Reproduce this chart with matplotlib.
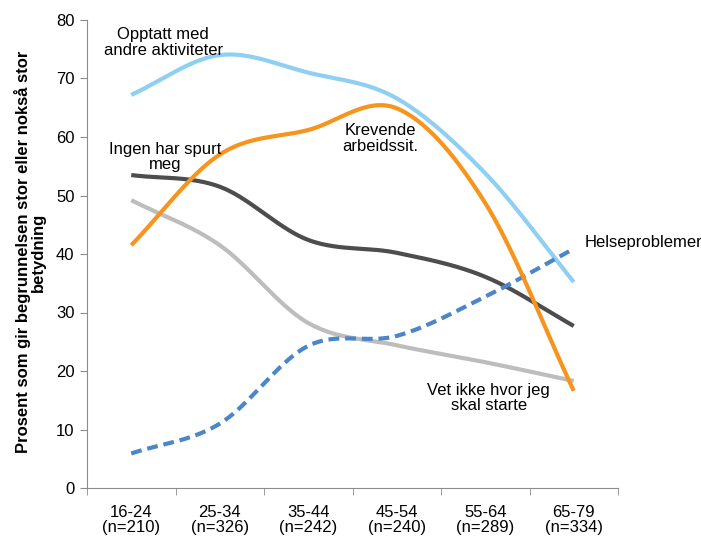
import numpy as np
import matplotlib.pyplot as plt

plt.rcParams['font.family'] = ['Liberation Sans', 'DejaVu Sans']

groups = ['16-24\n(n=210)', '25-34\n(n=326)', '35-44\n(n=242)',
          '45-54\n(n=240)', '55-64\n(n=289)', '65-79\n(n=334)']

opptatt = [67.2, 74.0, 71.0, 66.6, 53.8, 35.2]
krevende = [41.5, 57.0, 61.2, 64.9, 48.7, 16.6]
ingen_spurt = [53.5, 51.5, 42.4, 40.2, 36.1, 27.7]
vet_ikke = [49.2, 41.5, 28.2, 24.4, 21.5, 18.3]
helse = [5.9, 11.0, 24.3, 26.0, 32.7, 40.9]


def smooth(y, n=40):
    # catmull-rom style curve like excel's smoothed lines
    y = np.asarray(y, float)
    x = np.arange(len(y), dtype=float)
    px = np.concatenate([[2 * x[0] - x[1]], x, [2 * x[-1] - x[-2]]])
    py = np.concatenate([[2 * y[0] - y[1]], y, [2 * y[-1] - y[-2]]])
    xs, ys = [], []
    for i in range(1, len(px) - 2):
        t = np.linspace(0, 1, n, endpoint=False)
        for p, out in ((px, xs), (py, ys)):
            p0, p1, p2, p3 = p[i - 1], p[i], p[i + 1], p[i + 2]
            out.extend(0.5 * (2 * p1 + (-p0 + p2) * t
                              + (2 * p0 - 5 * p1 + 4 * p2 - p3) * t ** 2
                              + (-p0 + 3 * p1 - 3 * p2 + p3) * t ** 3))
    xs.append(x[-1])
    ys.append(y[-1])
    return np.array(xs), np.array(ys)


fig = plt.figure(figsize=(7.01, 5.36), dpi=100)
ax = fig.add_axes([87 / 701, 48 / 536, 531 / 701, 468 / 536])

lw = 3.0
ax.plot(*smooth(opptatt), color='#8ecff2', lw=lw, solid_capstyle='butt')
ax.plot(*smooth(ingen_spurt), color='#4d4d4f', lw=lw, solid_capstyle='butt')
ax.plot(*smooth(vet_ikke), color='#bdbdbd', lw=lw, solid_capstyle='butt')
ax.plot(*smooth(helse), color='#4a86c8', lw=lw, ls=(0, (2.6, 1.4)), dash_capstyle='butt')
ax.plot(*smooth(krevende), color='#f7941d', lw=lw, solid_capstyle='butt')

ax.set_xlim(-0.5, 5.5)
ax.set_ylim(0, 80)
ax.set_yticks(range(0, 81, 10))
ax.set_xticks(range(6))
ax.set_xticklabels(groups, fontsize=12, linespacing=1.05)
ax.set_xticks(np.arange(-0.5, 5.6, 1), minor=True)
ax.tick_params(axis='x', which='major', length=0, pad=12)
ax.tick_params(axis='x', which='minor', length=5, color='#8c8c8c')
ax.tick_params(axis='y', length=5, color='#8c8c8c', labelsize=12, pad=4)
for s in ['top', 'right']:
    ax.spines[s].set_visible(False)
for s in ['left', 'bottom']:
    ax.spines[s].set_color('#8c8c8c')

fig.text(30 / 701, 1 - 252 / 536,
         'Prosent som gir begrunnelsen stor eller nokså stor\nbetydning',
         rotation=90, ha='center', va='center', multialignment='center',
         fontsize=12, fontweight='bold', linespacing=1.05)

fs = 12
ls = 1.05
ax.text(0.36, 76.2, 'Opptatt med\nandre aktiviteter', ha='center', va='center', fontsize=fs, linespacing=ls)
ax.text(0.38, 56.6, 'Ingen har spurt\nmeg', ha='center', va='center', fontsize=fs, linespacing=ls)
ax.text(2.81, 59.7, 'Krevende\narbeidssit.', ha='center', va='center', fontsize=fs, linespacing=ls)
ax.text(5.12, 42.0, 'Helseproblemer', ha='left', va='center', fontsize=fs, clip_on=False)
ax.text(4.04, 15.4, 'Vet ikke hvor jeg\nskal starte', ha='center', va='center', fontsize=fs, linespacing=ls)

fig.savefig('out.png', dpi=100)
